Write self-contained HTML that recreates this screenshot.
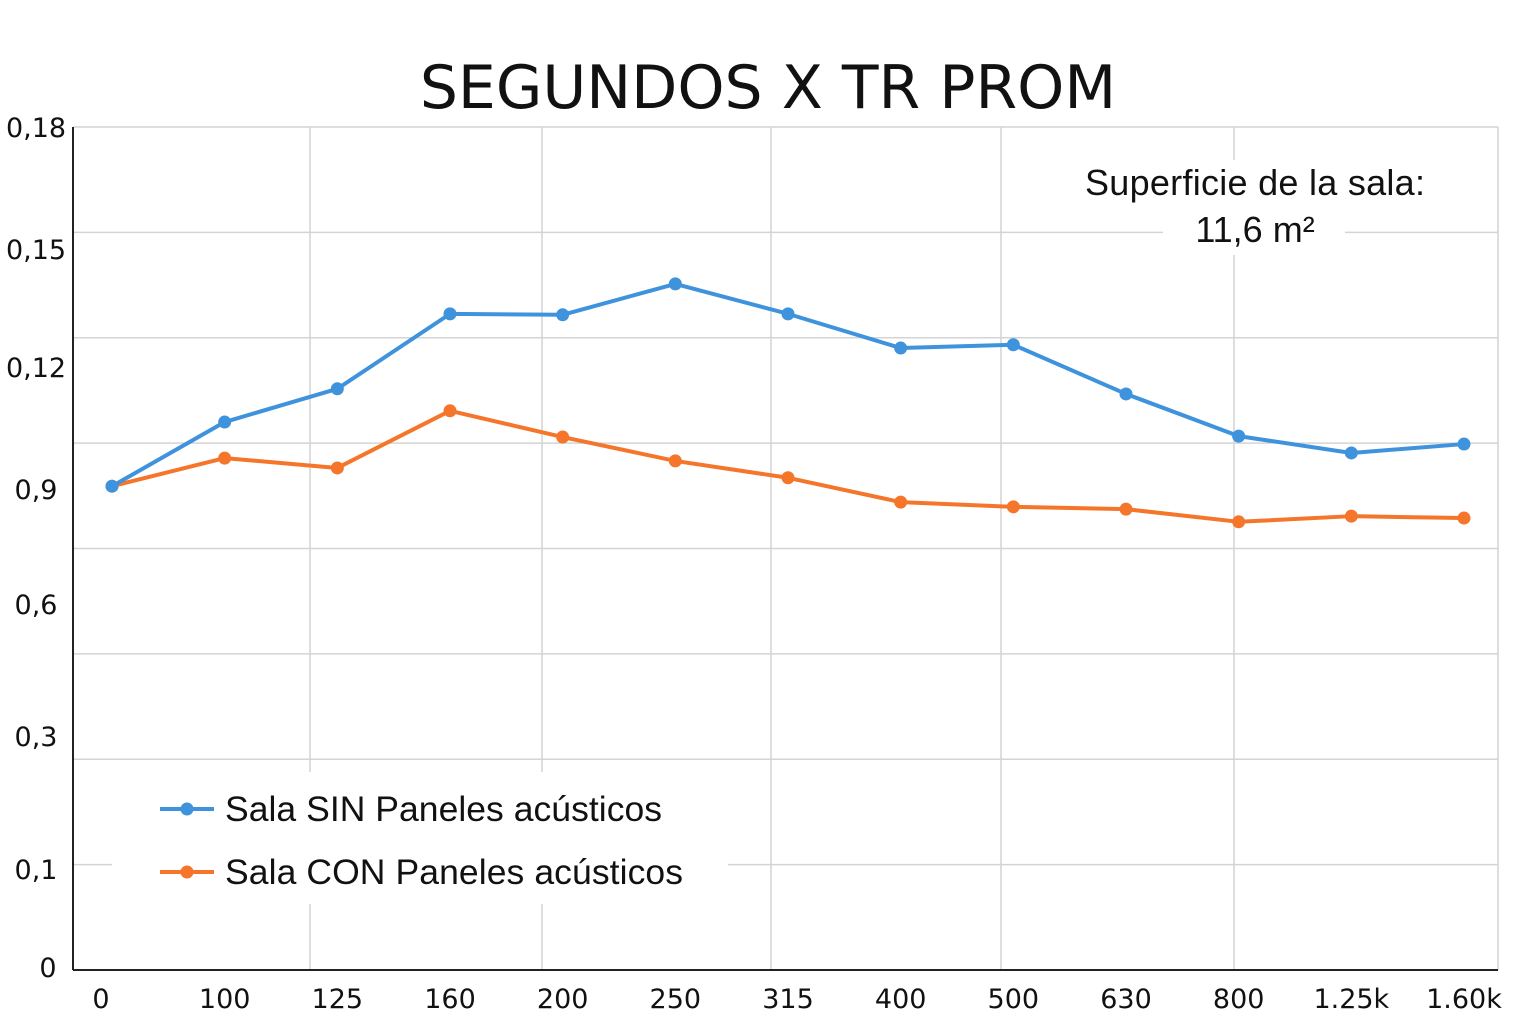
<!DOCTYPE html>
<html><head><meta charset="utf-8"><style>
html,body{margin:0;padding:0;background:#fff;}
svg{display:block;}
text{font-family:"DejaVu Sans","Liberation Sans",sans-serif;fill:#111;}
</style></head><body>
<svg id="chart" width="1536" height="1024" viewBox="0 0 1536 1024" xmlns="http://www.w3.org/2000/svg">
<rect width="1536" height="1024" fill="#fff"/>
<text x="768" y="108" text-anchor="middle" font-size="60">SEGUNDOS X TR PROM</text>
<g id="grid"></g>
<g id="axes"></g>
<g id="series"></g>
<g>
<rect x="1163" y="160" width="182" height="95" fill="#fff"/>
<text x="1255" y="195" text-anchor="middle" font-size="36" textLength="340" style="font-family:'Liberation Sans',sans-serif">Superficie de la sala:</text>
<text x="1255" y="242" text-anchor="middle" font-size="36" style="font-family:'Liberation Sans',sans-serif">11,6 m²</text>
</g>
<g>
<rect x="112" y="772" width="616" height="132" fill="#fff"/>
<g>
<line x1="160" y1="809" x2="214" y2="809" stroke="#3f93dd" stroke-width="4"/>
<circle cx="187" cy="809" r="6.5" fill="#3f93dd"/>
<text x="225" y="821" font-size="35.5" textLength="437" style="font-family:'Liberation Sans',sans-serif">Sala SIN Paneles acústicos</text>
</g>
<g>
<line x1="160" y1="872" x2="214" y2="872" stroke="#f5762a" stroke-width="4"/>
<circle cx="187" cy="872" r="6.5" fill="#f5762a"/>
<text x="225" y="884" font-size="35.5" textLength="458" style="font-family:'Liberation Sans',sans-serif">Sala CON Paneles acústicos</text>
</g>
</g>
</svg>
<script>
const categories=["0","100","125","160","200","250","315","400","500","630","800","1.25k","1.60k"];
const sinValues=[0.1033,0.1170,0.1241,0.1401,0.1399,0.1465,0.1401,0.1328,0.1335,0.1230,0.1140,0.1104,0.1123];
const conValues=[0.1033,0.1093,0.1072,0.1194,0.1138,0.1087,0.1051,0.0999,0.0989,0.0984,0.0957,0.0969,0.0965];
const yTickLabels=["0","0,1","0,3","0,6","0,9","0,12","0,15","0,18"];

const NS="http://www.w3.org/2000/svg";
const L=73,R=1498,T=127,B=970,YMAX=0.18;
function xS(i){return 112+i*(1464-112)/(categories.length-1);}
function yS(v){return B-v/YMAX*(B-T);}
function mk(tag,attrs,parent){const e=document.createElementNS(NS,tag);for(const k in attrs)e.setAttribute(k,attrs[k]);parent.appendChild(e);return e;}
const grid=document.getElementById('grid'),axes=document.getElementById('axes'),series=document.getElementById('series');
for(let k=0;k<=8;k++){const y=T+k*(B-T)/8;
 const g=mk('line',{x1:L,x2:R,y1:y,y2:y,stroke:'#d4d4d4','stroke-width':1.5},grid);
 
 }
[310,542,771,1001,1234,1498].forEach(x=>{
 const g=mk('line',{x1:x,x2:x,y1:T,y2:B,stroke:'#d4d4d4','stroke-width':1.5},grid);
 
 });
mk('line',{x1:L,x2:L,y1:T,y2:B,stroke:'#222','stroke-width':2},axes);
mk('line',{x1:L,x2:R,y1:B,y2:B,stroke:'#222','stroke-width':2},axes);
const yLabPos=[977,879,746,614,499,377,259,137];
yTickLabels.forEach((t,i)=>{
 const e=mk('text',{x:i==0?48:36,y:yLabPos[i],'text-anchor':'middle','font-size':27},axes);e.textContent=t;
 
 });
categories.forEach((c,i)=>{
 const e=mk('text',{x:xS(i)-(i==0?11:0),y:1008,'text-anchor':'middle','font-size':27},axes);e.textContent=c;
 
 });
function drawSeries(vals,color,name){
 const g=mk('g',{},series);
 
 
 const pts=vals.map((v,i)=>xS(i)+','+yS(v)).join(' ');
 const pl=mk('polyline',{points:pts,fill:'none',stroke:color,'stroke-width':4,'stroke-linejoin':'round'},g);
 
 
 vals.forEach((v,i)=>{const c=mk('circle',{cx:xS(i),cy:yS(v),r:6.5,fill:color},g);
  
  });
}
drawSeries(conValues,'#f5762a','series-con');
drawSeries(sinValues,'#3f93dd','series-sin');
</script>
</body></html>
